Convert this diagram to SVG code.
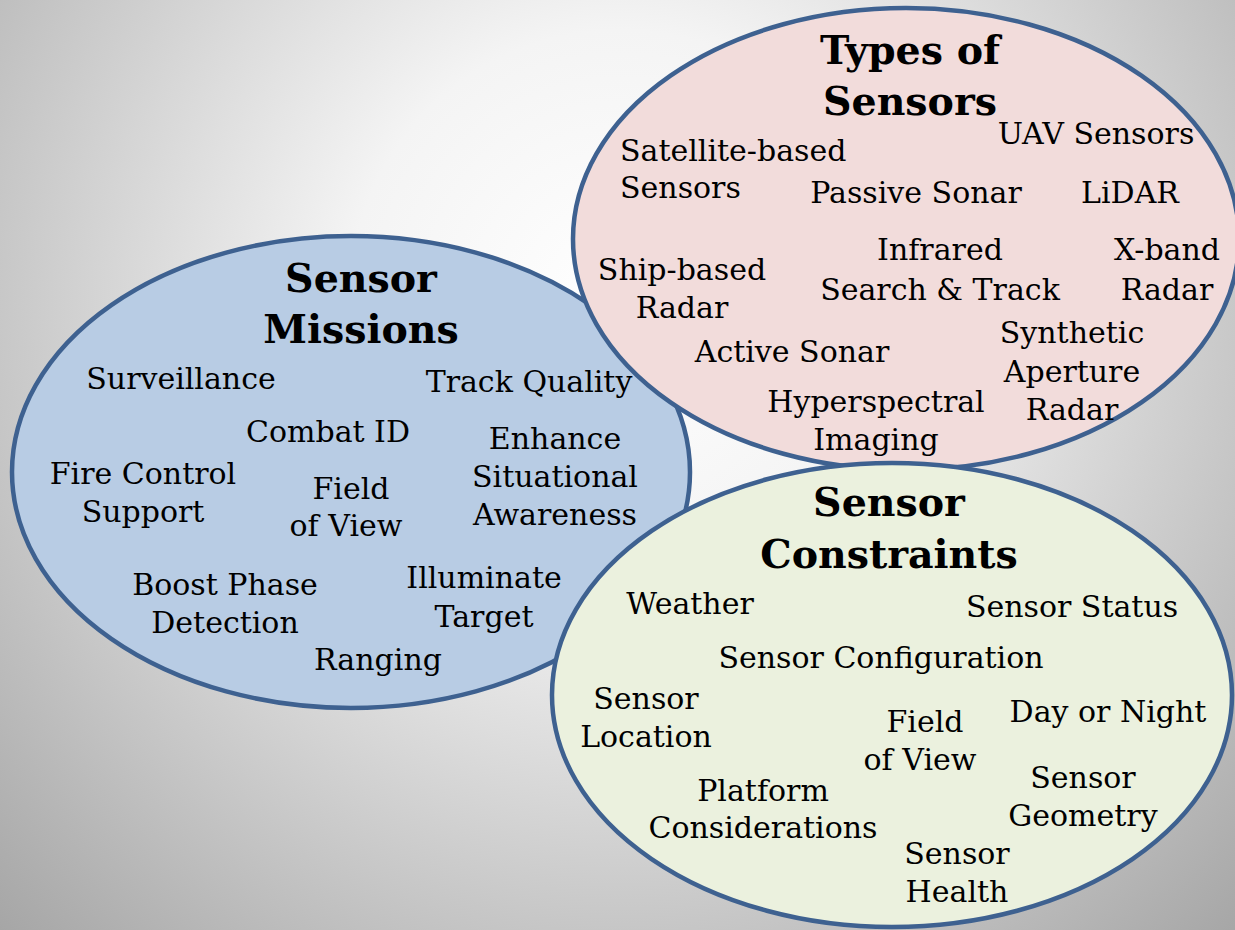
<svg xmlns="http://www.w3.org/2000/svg" width="1235" height="930" viewBox="0 0 1235 930">
<defs>
<radialGradient id="bg" gradientUnits="userSpaceOnUse" cx="620" cy="300" r="900">
<stop offset="0" stop-color="#ffffff"/>
<stop offset="0.3" stop-color="#f4f4f4"/>
<stop offset="1" stop-color="#a4a4a4"/>
</radialGradient>
<style>
.circ{stroke:#3e6190;stroke-width:4.5}
.t{font-family:"DejaVu Serif","Liberation Serif",serif;font-size:30px;fill:#000;text-anchor:middle}
.h{font-family:"DejaVu Serif","Liberation Serif",serif;font-size:39.5px;font-weight:bold;fill:#000;text-anchor:middle}
.l{text-anchor:start}
</style>
</defs>
<rect x="0" y="0" width="1235" height="930" fill="url(#bg)"/>
<g id="sensor-missions">
<ellipse class="circ" cx="351" cy="472" rx="339" ry="236" fill="#b8cce4"/>
<text class="h" x="361" y="292">Sensor</text>
<text class="h" x="361" y="343">Missions</text>
<text class="t" x="181" y="389">Surveillance</text>
<text class="t" x="529" y="392">Track Quality</text>
<text class="t" x="328" y="442">Combat ID</text>
<text class="t" x="555" y="449">Enhance</text>
<text class="t" x="555" y="487">Situational</text>
<text class="t" x="555" y="525">Awareness</text>
<text class="t" x="143" y="484">Fire Control</text>
<text class="t" x="143" y="522">Support</text>
<text class="t" x="351" y="499">Field</text>
<text class="t" x="346" y="536">of View</text>
<text class="t" x="225" y="595">Boost Phase</text>
<text class="t" x="225" y="633">Detection</text>
<text class="t" x="484" y="588">Illuminate</text>
<text class="t" x="484" y="627">Target</text>
<text class="t" x="378" y="670">Ranging</text>
</g>
<g id="types-of-sensors">
<ellipse class="circ" cx="906" cy="239" rx="333" ry="231" fill="#f2dcdb"/>
<text class="h" x="910" y="64">Types of</text>
<text class="h" x="910" y="115">Sensors</text>
<text class="t" x="1096" y="144">UAV Sensors</text>
<text class="t l" x="620" y="161">Satellite-based</text>
<text class="t l" x="620" y="198">Sensors</text>
<text class="t" x="916" y="203">Passive Sonar</text>
<text class="t" x="1130" y="203">LiDAR</text>
<text class="t" x="682" y="280">Ship-based</text>
<text class="t" x="682" y="318">Radar</text>
<text class="t" x="940" y="260">Infrared</text>
<text class="t" x="940" y="300">Search &amp; Track</text>
<text class="t" x="1167" y="260">X-band</text>
<text class="t" x="1167" y="300">Radar</text>
<text class="t" x="792" y="362">Active Sonar</text>
<text class="t" x="1072" y="343">Synthetic</text>
<text class="t" x="1072" y="382">Aperture</text>
<text class="t" x="1072" y="420">Radar</text>
<text class="t" x="876" y="412">Hyperspectral</text>
<text class="t" x="876" y="450">Imaging</text>
</g>
<g id="sensor-constraints">
<ellipse class="circ" cx="892" cy="695" rx="340" ry="232" fill="#ebf1de"/>
<text class="h" x="889" y="516">Sensor</text>
<text class="h" x="889" y="568">Constraints</text>
<text class="t" x="690" y="614">Weather</text>
<text class="t" x="1072" y="617">Sensor Status</text>
<text class="t" x="881" y="668">Sensor Configuration</text>
<text class="t" x="646" y="709">Sensor</text>
<text class="t" x="646" y="747">Location</text>
<text class="t" x="925" y="732">Field</text>
<text class="t" x="920" y="770">of View</text>
<text class="t" x="1108" y="722">Day or Night</text>
<text class="t" x="1083" y="788">Sensor</text>
<text class="t" x="1083" y="826">Geometry</text>
<text class="t" x="763" y="801">Platform</text>
<text class="t" x="763" y="838">Considerations</text>
<text class="t" x="957" y="864">Sensor</text>
<text class="t" x="957" y="902">Health</text>
</g>
<g id="connectors"/>
</svg>
